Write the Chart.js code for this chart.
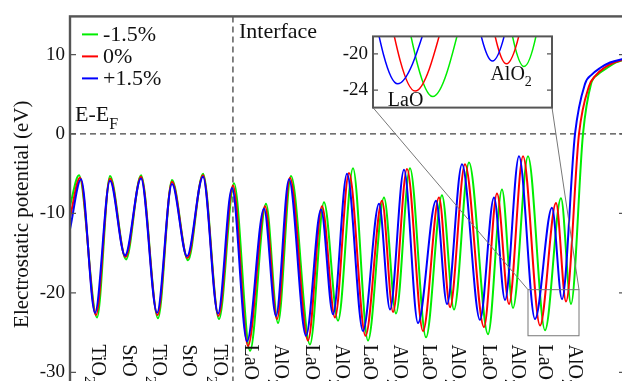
<!DOCTYPE html>
<html>
<head>
<meta charset="utf-8">
<script src="https://cdn.jsdelivr.net/npm/chart.js@4.4.1/dist/chart.umd.min.js"></script>
<style>
  html, body { margin: 0; padding: 0; background: #fff; }
  #wrap { position: relative; width: 622px; height: 381px; overflow: hidden; }
  #main { position: absolute; left: 0; top: 0; }
  #inset { position: absolute; left: 333px; top: 20px; }
</style>
</head>
<body>
<div id="wrap">
  <canvas id="main" width="640" height="430"></canvas>
  <canvas id="inset" width="224" height="104"></canvas>
</div>
<script>
// x = layer index (0 = first TiO2 plane), y = electrostatic potential (eV)
const layerLabels = ["TiO2", "SrO", "TiO2", "SrO", "TiO2", "LaO", "AlO2", "LaO", "AlO2",
  "LaO", "AlO2", "LaO", "AlO2", "LaO", "AlO2", "LaO", "AlO2"];
const layerPos = [0, 1.04, 2.05, 3.05, 4.09, 5.13, 6.14, 7.18, 8.19, 9.12, 10.13, 11.10,
  12.08, 13.12, 14.09, 14.99, 16.00];
const interfaceX = 4.56;
const yTicks = [-30, -20, -10, 0, 10];
const insetTicks = [-24, -20];
const zoomX = [14.458, 16.169];
const zoomY = [-19.6, -25.4];

// -1.5 %
const xGreen = [-0.906, -0.604, 0.000, 0.436, 0.973, 1.476, 2.046, 2.516, 3.053, 3.556, 4.093,
  4.596, 5.133, 5.669, 6.072, 6.508, 7.145, 7.615, 8.085, 8.588, 9.091, 9.628, 10.030, 10.500,
  11.037, 11.573, 11.976, 12.479, 13.117, 13.586, 13.955, 14.458, 15.029, 15.565, 15.901,
  16.303, 16.572, 16.806, 17.108, 17.410, 17.712];
const yGreen = [-9.0, -5.2, -23.1, -5.3, -15.8, -5.2, -23.2, -5.8, -15.9, -5.0, -23.3,
  -6.2, -27.3, -8.8, -23.8, -5.3, -26.5, -8.6, -23.5, -4.3, -26.0, -8.0, -22.6, -4.3,
  -25.6, -7.7, -22.1, -3.6, -25.2, -7.0, -21.9, -2.8, -24.7, -8.1, -21.4,
  0, 6.3, 7.5, 8.3, 9.0, 9.4];
// 0 %
const xRed = [-0.906, -0.570, -0.034, 0.436, 0.956, 1.476, 2.030, 2.516, 3.036, 3.556, 4.076,
  4.562, 5.065, 5.636, 6.038, 6.474, 7.078, 7.548, 7.984, 8.454, 9.007, 9.561, 9.930, 10.399,
  10.936, 11.473, 11.842, 12.345, 12.982, 13.418, 13.821, 14.291, 14.861, 15.398, 15.733,
  16.169, 16.504, 16.739, 17.008, 17.343, 17.712];
const yRed = [-10.5, -5.5, -22.8, -5.6, -15.5, -5.4, -22.8, -6.0, -15.6, -5.2, -22.9,
  -6.5, -26.7, -9.1, -23.3, -5.5, -26.0, -9.1, -23.1, -4.9, -25.4, -8.4, -22.4, -4.4,
  -24.8, -8.0, -21.8, -3.8, -24.3, -7.5, -21.4, -2.8, -24.1, -8.7, -21.1,
  0, 6.0, 7.4, 8.3, 9.0, 9.4];
// +1.5 %
const xBlue = [-0.906, -0.537, -0.067, 0.436, 0.939, 1.476, 2.013, 2.516, 3.019, 3.556, 4.059,
  4.529, 5.032, 5.602, 6.005, 6.441, 7.011, 7.514, 7.917, 8.387, 8.923, 9.460, 9.829, 10.299,
  10.768, 11.372, 11.741, 12.244, 12.848, 13.318, 13.687, 14.156, 14.693, 15.263, 15.599,
  16.035, 16.370, 16.605, 16.874, 17.209, 17.712];
const yBlue = [-12.0, -5.7, -22.5, -5.9, -15.3, -5.6, -22.5, -6.3, -15.4, -5.4, -22.6,
  -6.8, -26.1, -9.4, -22.9, -5.7, -25.4, -9.5, -22.7, -5.0, -24.8, -8.8, -22.1, -4.5,
  -23.8, -8.4, -21.4, -3.8, -23.4, -8.0, -20.9, -2.8, -23.3, -9.3, -20.8,
  0, 6.3, 7.5, 8.3, 9.0, 9.5];

const SERIF = "'Liberation Serif', 'Times New Roman', serif";
const INK = "#111";
const FRAME = "#555";

const series = [
  { label: "-1.5%", xs: xGreen, ys: yGreen, color: "#00ee00", order: 2 },
  { label: "0%", xs: xRed, ys: yRed, color: "#ff0000", order: 1 },
  { label: "+1.5%", xs: xBlue, ys: yBlue, color: "#0000ff", order: 0 },
];

function makeDatasets(width) {
  return series.map(s => ({
    label: s.label,
    data: s.xs.map((x, i) => ({ x, y: s.ys[i] })),
    borderColor: s.color, borderWidth: width, order: s.order,
    pointRadius: 0, fill: false, cubicInterpolationMode: "monotone",
  }));
}

// text with an optional trailing subscript
function subText(ctx, base, sub, x, y, size, subSize, drop) {
  ctx.font = size + "px " + SERIF;
  ctx.fillText(base, x, y);
  if (!sub) return;
  const w = ctx.measureText(base).width;
  ctx.font = subSize + "px " + SERIF;
  ctx.fillText(sub, x + w, y + drop);
}

function frame(ctx, a, lw) {
  ctx.save();
  ctx.strokeStyle = FRAME; ctx.lineWidth = lw;
  ctx.strokeRect(a.left, a.top, a.right - a.left, a.bottom - a.top);
  ctx.restore();
}

function innerTicks(ctx, chart, values, len) {
  const a = chart.chartArea, ys = chart.scales.y;
  ctx.save();
  ctx.strokeStyle = FRAME; ctx.lineWidth = 1.2;
  values.forEach(v => {
    const py = ys.getPixelForValue(v);
    ctx.beginPath();
    ctx.moveTo(a.left, py); ctx.lineTo(a.left + len, py);
    ctx.moveTo(a.right, py); ctx.lineTo(a.right - len, py);
    ctx.stroke();
  });
  ctx.restore();
}

// ---------- inset ----------
const insetDeco = {
  id: "insetDeco",
  beforeDatasetsDraw(chart) {
    const { ctx, chartArea: a } = chart;
    ctx.save();
    ctx.fillStyle = "#fff";
    ctx.fillRect(a.left, a.top, a.right - a.left, a.bottom - a.top);
    ctx.restore();
  },
  afterDraw(chart) {
    const { ctx, chartArea: a, scales: { x, y } } = chart;
    frame(ctx, a, 2);
    innerTicks(ctx, chart, insetTicks, 5);
    ctx.save();
    ctx.fillStyle = INK;
    ctx.textAlign = "left"; ctx.textBaseline = "alphabetic";
    subText(ctx, "LaO", "", x.getPixelForValue(14.60), y.getPixelForValue(-25.75), 20, 14, 0);
    subText(ctx, "AlO", "2", x.getPixelForValue(15.58), y.getPixelForValue(-22.83), 20, 14, 6);
    ctx.restore();
  },
};

const insetChart = new Chart(document.getElementById("inset"), {
  type: "line",
  data: { datasets: makeDatasets(1.5) },
  options: {
    responsive: false, animation: false, events: [],
    layout: { padding: { left: 0, top: 5, right: 5, bottom: 5 } },
    plugins: { legend: { display: false }, tooltip: { enabled: false } },
    scales: {
      x: { type: "linear", min: zoomX[0], max: zoomX[1], display: false },
      y: {
        min: -25.92, max: -18.08,
        afterBuildTicks: s => { s.ticks = insetTicks.map(v => ({ value: v })); },
        afterFit: s => { s.width = 40; },
        grid: { display: false, drawTicks: false }, border: { display: false },
        ticks: { color: INK, padding: 5, font: { family: SERIF, size: 19 } },
      },
    },
  },
  plugins: [insetDeco],
});

// ---------- main chart ----------
const mainDeco = {
  id: "mainDeco",
  beforeDatasetsDraw(chart) {
    const { ctx, chartArea: a, scales: { x, y } } = chart;
    ctx.save();
    ctx.strokeStyle = "#444"; ctx.lineWidth = 1.3; ctx.setLineDash([6, 4]);
    const y0 = y.getPixelForValue(0);
    ctx.beginPath(); ctx.moveTo(a.left, y0); ctx.lineTo(a.right, y0); ctx.stroke();
    const xi = x.getPixelForValue(interfaceX);
    ctx.beginPath(); ctx.moveTo(xi, a.top); ctx.lineTo(xi, a.bottom); ctx.stroke();
    ctx.restore();
  },
  afterDraw(chart) {
    const { ctx, chartArea: a, scales: { x, y } } = chart;
    frame(ctx, a, 2.4);
    innerTicks(ctx, chart, yTicks, 6);

    ctx.save();
    ctx.fillStyle = INK;

    // legend
    chart.data.datasets.forEach((ds, i) => {
      const ly = a.top + 18 + i * 22;
      ctx.strokeStyle = ds.borderColor; ctx.lineWidth = 2;
      ctx.beginPath(); ctx.moveTo(a.left + 12, ly); ctx.lineTo(a.left + 28, ly); ctx.stroke();
      ctx.font = "22px " + SERIF; ctx.textBaseline = "middle"; ctx.textAlign = "left";
      ctx.fillText(ds.label, a.left + 33, ly + 1);
    });

    // annotations
    ctx.textBaseline = "middle";
    ctx.font = "22px " + SERIF;
    ctx.fillText("Interface", x.getPixelForValue(interfaceX) + 6, a.top + 16);
    ctx.textBaseline = "alphabetic";
    subText(ctx, "E-E", "F", a.left + 5, y.getPixelForValue(0) - 13, 22, 16, 8);

    // layer labels, rotated
    layerLabels.forEach((lab, i) => {
      const m = lab.match(/^(\D+)(\d*)$/);
      ctx.save();
      ctx.translate(x.getPixelForValue(layerPos[i]), y.getPixelForValue(-26.5));
      ctx.rotate(Math.PI / 2);
      ctx.textAlign = "left"; ctx.textBaseline = "middle";
      subText(ctx, m[1], m[2], 0, 0, 20, 15, 8);
      ctx.restore();
    });

    // zoom box and connectors to inset
    const bx0 = x.getPixelForValue(zoomX[0]), bx1 = x.getPixelForValue(zoomX[1]);
    const by0 = y.getPixelForValue(zoomY[0]), by1 = y.getPixelForValue(zoomY[1]);
    ctx.strokeStyle = "#777"; ctx.lineWidth = 1;
    ctx.strokeRect(bx0, by0, bx1 - bx0, by1 - by0);
    const ic = insetChart.canvas, ia = insetChart.chartArea;
    const ox = ic.offsetLeft - chart.canvas.offsetLeft, oy = ic.offsetTop - chart.canvas.offsetTop;
    ctx.beginPath();
    ctx.moveTo(ox + ia.left, oy + ia.bottom); ctx.lineTo(bx0, by0);
    ctx.moveTo(ox + ia.right, oy + ia.bottom); ctx.lineTo(bx1, by0);
    ctx.stroke();
    ctx.restore();
  },
};

new Chart(document.getElementById("main"), {
  type: "line",
  data: { datasets: makeDatasets(2) },
  options: {
    responsive: false, animation: false, events: [],
    layout: { padding: { left: 6, top: 15, right: 15, bottom: 18 } },
    plugins: { legend: { display: false }, tooltip: { enabled: false } },
    scales: {
      x: { type: "linear", min: -0.906, max: 17.712, display: false },
      y: {
        min: -35, max: 14.8,
        afterBuildTicks: s => { s.ticks = yTicks.map(v => ({ value: v })); },
        afterFit: s => { s.width = 64; },
        grid: { display: false, drawTicks: false }, border: { display: false },
        ticks: { color: INK, padding: 5, font: { family: SERIF, size: 19 } },
        title: { display: true, text: "Electrostatic potential (eV)", color: INK,
          font: { family: SERIF, size: 21 } },
      },
    },
  },
  plugins: [mainDeco],
});
</script>
</body>
</html>
